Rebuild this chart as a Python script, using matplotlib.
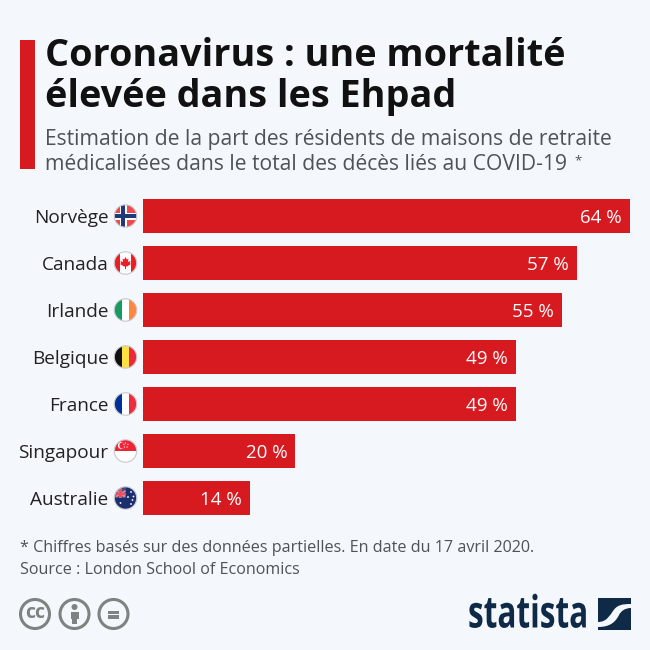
# -*- coding: utf-8 -*-
import matplotlib
matplotlib.use('Agg')
import matplotlib.pyplot as plt
import matplotlib.patheffects as pe
from matplotlib.patches import Circle, Rectangle, PathPatch, Polygon
from matplotlib.path import Path
from matplotlib.transforms import Affine2D

countries = ['Norvège', 'Canada', 'Irlande', 'Belgique', 'France', 'Singapour', 'Australie']
shares = [64, 57, 55, 49, 49, 20, 14]
value_labels = ['64 %', '57 %', '55 %', '49 %', '49 %', '20 %', '14 %']

BG = '#f4f7fb'
RED = '#d71920'
NAVY = '#0f2a47'
GREY = '#7d8381'

plt.rcParams['font.family'] = ['Open Sans', 'DejaVu Sans']

fig = plt.figure(figsize=(6.5, 6.5), dpi=100, facecolor=BG)

# overlay in pixel coords, y going down like the picture
bg = fig.add_axes([0, 0, 1, 1])
bg.set_xlim(0, 650)
bg.set_ylim(650, 0)
bg.axis('off')

# bars
ax = fig.add_axes([143 / 650, 1 - 521.5 / 650, 487 / 650, 329 / 650])
ax.patch.set_alpha(0)
ax.barh(range(len(countries)), shares, height=34 / 47, color=RED)
ax.set_xlim(0, 64)
ax.set_ylim(len(countries) - 0.5, -0.5)
ax.axis('off')
for i, v in enumerate(shares):
    ax.annotate(value_labels[i], (v, i), xytext=(-8, -2), textcoords='offset pixels',
                ha='right', va='center', color='white', fontsize=13.5)
    ax.annotate(countries[i], (0, i), xytext=(-34.5, -2), textcoords='offset pixels',
                ha='right', va='center', color='#222222', fontsize=13.7,
                annotation_clip=False)

# title block
bg.add_patch(Rectangle((20, 40), 15, 129, color=RED, lw=0))
bg.text(45, 56, 'Coronavirus : une mortalité', fontsize=27.2, fontweight='bold',
        color='#111111', va='center')
bg.text(45, 97, 'élevée dans les Ehpad', fontsize=27.2, fontweight='bold',
        color='#111111', va='center')
bg.text(45, 139, 'Estimation de la part des résidents de maisons de retraite',
        fontsize=15.2, color='#4d5358', va='center')
bg.text(45, 165, 'médicalisées dans le total des décès liés au COVID-19', fontsize=15.2,
        color='#4d5358', va='center')
bg.text(574, 161, '*', fontsize=9.5, color='#4d5358', va='center')


# flags
def flag(cy, stripes=None, horizontal=False):
    cx, r = 125.5, 11.2
    clip = Circle((cx, cy), r, transform=bg.transData)
    items = []
    if stripes:
        n = len(stripes)
        for k, c in enumerate(stripes):
            if horizontal:
                items.append(Rectangle((cx - r, cy - r + k * 2 * r / n), 2 * r, 2 * r / n, color=c, lw=0))
            else:
                items.append(Rectangle((cx - r + k * 2 * r / n, cy - r), 2 * r / n, 2 * r, color=c, lw=0))
    return cx, r, clip, items


def finish(cy, items, clip, cx=125.5, r=11.2):
    for it in items:
        bg.add_patch(it)
        it.set_clip_path(clip)
    bg.add_patch(Circle((cx, cy), r, fill=False, ec='#c8c8c8', lw=0.8))


ys = [216 + 47 * i for i in range(7)]

# Norway
cx, r, clip, items = flag(ys[0], ['#ef4a4f'])
items += [Rectangle((cx - 6, ys[0] - 11), 7, 22, color='white', lw=0),
          Rectangle((cx - 11, ys[0] - 3.5), 22, 7, color='white', lw=0),
          Rectangle((cx - 4.2, ys[0] - 11), 3.4, 22, color='#1f3a7a', lw=0),
          Rectangle((cx - 11, ys[0] - 1.7), 22, 3.4, color='#1f3a7a', lw=0)]
finish(ys[0], items, clip)

# Canada
cx, r, clip, items = flag(ys[1], ['#ee1c25', 'white', 'white', '#ee1c25'])
leaf = [(0, -6), (1.3, -3.5), (3, -4.3), (2.4, -1), (5, -2), (4.4, 0.2), (5.4, 1), (1.4, 3.6),
        (0.5, 3.3), (0.5, 6), (-0.5, 6), (-0.5, 3.3), (-1.4, 3.6), (-5.4, 1), (-4.4, 0.2),
        (-5, -2), (-2.4, -1), (-3, -4.3), (-1.3, -3.5)]
items.append(Polygon([(cx + a, ys[1] + b) for a, b in leaf], color='#ee1c25', lw=0))
finish(ys[1], items, clip)

# Ireland
cx, r, clip, items = flag(ys[2], ['#169b62', 'white', '#ff883e'])
finish(ys[2], items, clip)

# Belgium
cx, r, clip, items = flag(ys[3], ['#111111', '#fae042', '#ed2939'])
finish(ys[3], items, clip)

# France
cx, r, clip, items = flag(ys[4], ['#00309a', 'white', '#ef2b3d'])
finish(ys[4], items, clip)

# Singapore
cx, r, clip, items = flag(ys[5], ['#ee2536', 'white'], horizontal=True)
items.append(Circle((cx - 4, ys[5] - 5.5), 3.6, color='white', lw=0))
items.append(Circle((cx - 2.8, ys[5] - 5.5), 3.3, color='#ee2536', lw=0))
for a, b in [(0, -8), (2.4, -6.6), (1.6, -4), (-1, -4), (-1.6, -6.6)]:
    items.append(Circle((cx + a, ys[5] + b), 0.6, color='white', lw=0))
finish(ys[5], items, clip)

# Australia
cx, r, clip, items = flag(ys[6], ['#1b2f6e'])
items += [Rectangle((cx - 11, ys[6] - 11), 11, 11, color='#3d4f8a', lw=0),
          Polygon([(cx - 11, ys[6] - 8), (cx - 9, ys[6] - 9), (cx + 0.5, ys[6] - 2), (cx - 1.5, ys[6] - 0.5)], color='#e8808a', lw=0),
          Polygon([(cx - 0.5, ys[6] - 8), (cx + 0.5, ys[6] - 6.5), (cx - 9, ys[6] - 0.5), (cx - 10.5, ys[6] - 2)], color='#e8808a', lw=0),
          Rectangle((cx - 11, ys[6] - 5.5), 11.5, 2.4, color='#ee5060', lw=0),
          Rectangle((cx - 6.2, ys[6] - 10), 2.4, 10, color='#ee5060', lw=0)]
for a, b in [(-5, 5), (5.5, -6), (2.5, -1), (8, -1.5), (5.5, 6), (7, 2)]:
    items.append(Circle((cx + a, ys[6] + b), 0.9, color='white', lw=0))
finish(ys[6], items, clip)

# notes
bg.text(20, 548, '* Chiffres basés sur des données partielles. En date du 17 avril 2020.',
        fontsize=11.6, color='#4d5358', va='center')
bg.text(20, 570, 'Source : London School of Economics', fontsize=11.6, color='#4d5358', va='center')

# cc icons
for cx_i in [35, 74.5, 113.5]:
    bg.add_patch(Circle((cx_i, 614), 14.5, fc='none', ec=GREY, lw=2.2))
bg.text(35, 613, 'cc', fontsize=14, fontweight='bold', color=GREY, ha='center', va='center')
bg.add_patch(Circle((74.5, 607), 3, color=GREY, lw=0))
bg.add_patch(Rectangle((70.5, 612), 8, 6.5, color=GREY, lw=0))
bg.add_patch(Rectangle((72, 612), 5, 12, color=GREY, lw=0))
bg.add_patch(Rectangle((107.7, 610.7), 11.6, 3.2, color=GREY, lw=0))
bg.add_patch(Rectangle((107.7, 615.4), 11.6, 3.2, color=GREY, lw=0))


# no narrow bold installed, so squeeze the real text when it is drawn
class Squeeze(pe.AbstractPathEffect):
    def __init__(self, x0, sx):
        super().__init__()
        self.x0 = x0
        self.sx = sx

    def draw_path(self, renderer, gc, tpath, affine, rgbFace=None):
        squeeze = Affine2D().translate(-self.x0, 0).scale(self.sx, 1).translate(self.x0, 0)
        renderer.draw_path(gc, tpath, affine + squeeze, rgbFace)


# statista logo
logo = bg.text(468, 616, 'statista', fontsize=32, fontweight='bold', color=NAVY, va='center')
logo.set_path_effects([Squeeze(468, 0.71)])
bg.add_patch(Rectangle((598, 598), 33, 32, color=NAVY, lw=0))
verts = [(598, 622), (607, 622), (610, 615), (613, 611), (617, 605), (622, 604), (631, 604),
         (631, 608), (625, 608), (621, 611), (619, 615), (615, 623), (609, 627), (598, 627), (598, 622)]
codes = [Path.MOVETO] + [Path.CURVE4] * 6 + [Path.LINETO] + [Path.CURVE4] * 6 + [Path.CLOSEPOLY]
bg.add_patch(PathPatch(Path(verts, codes), fc=BG, ec='none'))

fig.savefig('out.png', dpi=100, facecolor=BG)
